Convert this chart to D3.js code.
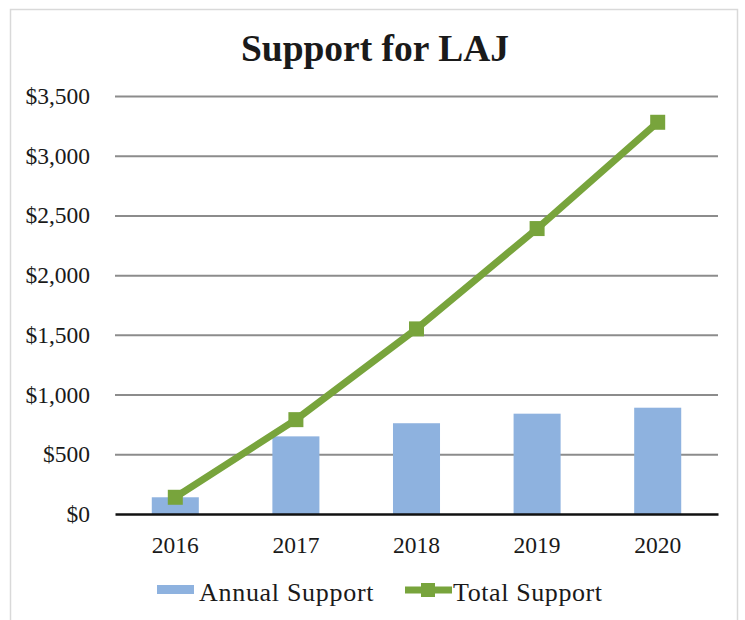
<!DOCTYPE html>
<html>
<head>
<meta charset="utf-8">
<script src="https://cdn.jsdelivr.net/npm/d3@7"></script>
<style>
  body { margin: 0; background: #fff; }
  text { font-family: "Liberation Serif", "Times New Roman", serif; fill: #1a1a1a; }
</style>
</head>
<body>
<svg id="chart" width="745" height="620"></svg>
<script>
// Yearly and cumulative support, in dollars
const years = ["2016", "2017", "2018", "2019", "2020"];
const annualSupport = [140, 650, 760, 840, 890];
const totalSupport = [140, 790, 1550, 2390, 3280];
const yTickValues = [0, 500, 1000, 1500, 2000, 2500, 3000, 3500];
const seriesNames = ["Annual Support", "Total Support"];

const barColor = "#8eb2df";
const lineColor = "#78a43c";

const svg = d3.select("#chart");
const plot = { left: 115, right: 718, top: 96, bottom: 514 };

// Outer chart frame
svg.append("rect")
  .attr("x", 10.5).attr("y", 9.5)
  .attr("width", 727).attr("height", 630)
  .attr("fill", "#fff").attr("stroke", "#d9d9d9").attr("stroke-width", 1.5);

// Title
svg.append("text")
  .attr("x", 375).attr("y", 61)
  .attr("text-anchor", "middle")
  .style("font-size", "37.5px").style("font-weight", "bold")
  .text("Support for LAJ");

const x = d3.scaleBand()
  .domain(years)
  .range([plot.left, plot.right])
  .paddingInner(0.61)
  .paddingOuter(0.305);

const y = d3.scaleLinear()
  .domain([0, 3500])
  .range([plot.bottom, plot.top]);

// Horizontal gridlines
const grid = svg.append("g")
  .attr("transform", `translate(${plot.left},0)`)
  .call(d3.axisLeft(y).tickValues(yTickValues.slice(1)).tickSize(-(plot.right - plot.left)).tickFormat(""));
grid.select(".domain").remove();
grid.selectAll(".tick line").attr("stroke", "#8c8c8c").attr("stroke-width", 2);

// Y axis labels
const yAxis = svg.append("g")
  .attr("transform", `translate(${plot.left},0)`)
  .call(d3.axisLeft(y).tickValues(yTickValues).tickSize(0).tickPadding(25)
    .tickFormat(d => "$" + d3.format(",")(d)));
yAxis.select(".domain").remove();
yAxis.selectAll("text")
  .style("font-size", "23.5px")
  .style("font-family", "'Liberation Serif', serif")
  .attr("fill", "#1a1a1a");

// Annual bars
svg.append("g").selectAll("rect")
  .data(years)
  .join("rect")
  .attr("x", d => x(d))
  .attr("width", x.bandwidth())
  .attr("y", (d, i) => y(annualSupport[i]))
  .attr("height", (d, i) => y(0) - y(annualSupport[i]))
  .attr("fill", barColor);

// X axis baseline and year labels
const xAxis = svg.append("g")
  .attr("transform", `translate(0,${plot.bottom})`)
  .call(d3.axisBottom(x).tickSize(0).tickPadding(22));
xAxis.select(".domain").attr("stroke", "#111").attr("stroke-width", 2.5);
xAxis.selectAll("text")
  .style("font-size", "23.5px")
  .style("font-family", "'Liberation Serif', serif")
  .attr("fill", "#1a1a1a");

// Cumulative line with square markers
const cx = d => x(d) + x.bandwidth() / 2;
const line = d3.line()
  .x(d => cx(d))
  .y((d, i) => y(totalSupport[i]));
svg.append("path")
  .datum(years)
  .attr("d", line)
  .attr("fill", "none")
  .attr("stroke", lineColor)
  .attr("stroke-width", 7)
  .attr("stroke-linejoin", "round");

const markerSize = 15;
svg.append("g").selectAll("rect")
  .data(years)
  .join("rect")
  .attr("x", d => cx(d) - markerSize / 2)
  .attr("y", (d, i) => y(totalSupport[i]) - markerSize / 2)
  .attr("width", markerSize).attr("height", markerSize)
  .attr("fill", lineColor);

// Legend
const legend = svg.append("g");
legend.append("rect")
  .attr("x", 157).attr("y", 585).attr("width", 37).attr("height", 9)
  .attr("fill", barColor);
legend.append("text")
  .attr("x", 199).attr("y", 601)
  .style("font-size", "26px").style("letter-spacing", "0.7px")
  .text(seriesNames[0]);
legend.append("line")
  .attr("x1", 405).attr("x2", 452).attr("y1", 590).attr("y2", 590)
  .attr("stroke", lineColor).attr("stroke-width", 7);
legend.append("rect")
  .attr("x", 428 - 7).attr("y", 590 - 7).attr("width", 14).attr("height", 14)
  .attr("fill", lineColor);
legend.append("text")
  .attr("x", 453).attr("y", 601)
  .style("font-size", "26px").style("letter-spacing", "0.6px")
  .text(seriesNames[1]);
</script>
</body>
</html>
